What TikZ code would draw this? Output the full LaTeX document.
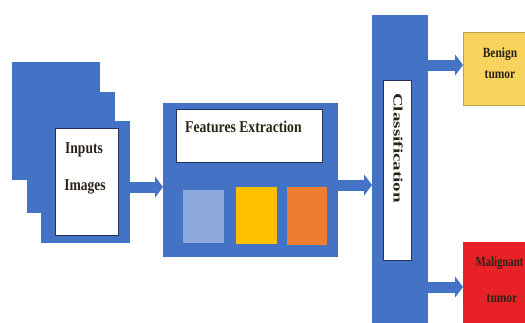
\documentclass[tikz,border=0pt]{standalone}
\usepackage{fontspec}
\setmainfont{Liberation Serif}
\usetikzlibrary{arrows.meta}
\definecolor{myblue}{HTML}{4472C4}
\definecolor{navy}{HTML}{22335E}
\definecolor{lightsq}{HTML}{8EA9DB}
\definecolor{yellowsq}{HTML}{FFC000}
\definecolor{orangesq}{HTML}{ED7D31}
\definecolor{benignc}{HTML}{F8D35E}
\definecolor{benignb}{HTML}{B8A050}
\definecolor{malc}{HTML}{E82127}
\definecolor{tdark}{HTML}{2A2418}
\begin{document}
\begin{tikzpicture}[x=1pt,y=-1pt,
  box/.style={anchor=north west,inner sep=0pt,outer sep=0pt},
  blk/.style={box,fill=myblue,draw=none},
  wbox/.style={box,fill=white,draw=navy,line width=0.8pt},
  sq/.style={box,draw=none},
  txt/.style={inner sep=0pt,anchor=base,font=\bfseries,text=tdark},
  arr/.style={draw=myblue,line width=11pt,-{Triangle[length=8pt,width=21pt]}}
]
\useasboundingbox (0,0) rectangle (525,322);
\clip (0,0) rectangle (525,322);
\fill[white] (0,0) rectangle (525,322);
% input stack
\node[blk,minimum width=88pt,minimum height=118pt] (back) at (12,62) {};
\node[blk,minimum width=88pt,minimum height=121pt] (middle) at (27,92) {};
\node[blk,minimum width=89pt,minimum height=122pt] (front) at (41,121) {};
\node[wbox,minimum width=63pt,minimum height=107pt] (inimg) at (55,128) {};
\node[txt] (tinputs) at (84,153) {\fontsize{16.5}{18}\selectfont\scalebox{0.82}[1]{Inputs}};
\node[txt] (timages) at (85,190) {\fontsize{16.5}{18}\selectfont\scalebox{0.82}[1]{Images}};
% features
\node[blk,minimum width=175pt,minimum height=154pt] (feat) at (163,103) {};
\node[wbox,minimum width=146pt,minimum height=53pt] (ftitle) at (176,109) {};
\node[txt,anchor=base west] (tfeat) at (185,132) {\fontsize{16.5}{18}\selectfont\scalebox{0.83}[1]{Features Extraction}};
\node[sq,fill=lightsq,minimum width=41pt,minimum height=53pt] (sq1) at (183,190) {};
\node[sq,fill=yellowsq,minimum width=41pt,minimum height=57pt] (sq2) at (236,187) {};
\node[sq,fill=orangesq,minimum width=40pt,minimum height=58pt] (sq3) at (287,187) {};
% classification
\node[blk,minimum width=56pt,minimum height=320pt] (cls) at (372,15) {};
\node[wbox,minimum width=28pt,minimum height=180pt] (clsin) at (383,80) {};
\node[inner sep=0pt,rotate=-90,font=\bfseries,text=tdark] (tcls) at (398,148) {\fontsize{19}{20}\selectfont\scalebox{1}[0.68]{Classification}};
% outputs
\node[box,fill=benignc,draw=benignb,line width=0.8pt,minimum width=80pt,minimum height=73pt] (benign) at (463,32) {};
\node[txt] (tben1) at (500,57) {\fontsize{14}{15}\selectfont\scalebox{0.82}[1]{Benign}};
\node[txt] (tben2) at (500,78) {\fontsize{14}{15}\selectfont\scalebox{0.82}[1]{tumor}};
\node[box,fill=malc,draw=none,minimum width=80pt,minimum height=100pt] (malig) at (463,242) {};
\node[txt] (tmal1) at (499.5,266) {\fontsize{14}{15}\selectfont\scalebox{0.77}[1]{Malignant}};
\node[txt] (tmal2) at (502,302) {\fontsize{14}{15}\selectfont\scalebox{0.82}[1]{tumor}};
% arrows
\draw[arr] (front.east |- 0,187) -- (feat.west |- 0,187);
\draw[arr] (feat.east |- 0,185) -- (cls.west |- 0,185);
\draw[arr] (cls.east |- 0,65) -- (benign.west |- 0,65);
\draw[arr] (cls.east |- 0,287) -- (malig.west |- 0,287);
\end{tikzpicture}
\end{document}
